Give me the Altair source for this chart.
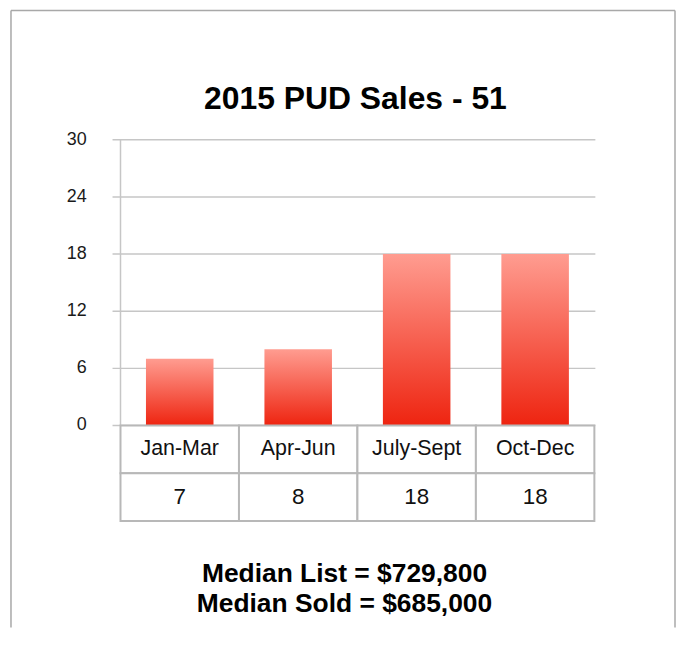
import altair as alt
import pandas as pd

# ---- data ----
categories = ["Jan-Mar", "Apr-Jun", "July-Sept", "Oct-Dec"]
sales = [7, 8, 18, 18]
y_ticks = [0, 6, 12, 18, 24, 30]
title_text = "2015 PUD Sales - 51"
median_lines = ["Median List = $729,800", "Median Sold = $685,000"]

W, H = 667, 620
FONT = "Liberation Sans"

bars_df = pd.DataFrame({"category": categories, "sales": sales})
ticks_df = pd.DataFrame({"tick": y_ticks})
table_df = pd.DataFrame({
    "category": categories * 2,
    "row": ["label"] * len(categories) + ["value"] * len(categories),
    "text": categories + [str(v) for v in sales],
})
one = pd.DataFrame({"k": [0]})

xscale = alt.Scale(domain=categories, range=[110, 586], paddingInner=0, paddingOuter=0)
yscale = alt.Scale(domain=[0, 30], range=[417, 130], nice=False, zero=True)
rowscale = alt.Scale(domain=["label", "value"], range=[417, 513], paddingInner=0, paddingOuter=0)

grid_color = "#C6C6C6"

grid = alt.Chart(ticks_df).mark_rule(color=grid_color, strokeWidth=1.5).encode(
    y=alt.Y("tick:Q", scale=yscale, axis=None),
    x=alt.value(102),
    x2=alt.value(587),
)

yline = alt.Chart(ticks_df).mark_rule(color=grid_color, strokeWidth=1.5).encode(
    x=alt.value(110),
    y=alt.Y("min(tick):Q", scale=yscale, axis=None),
    y2="max(tick):Q",
)

gradient = alt.Gradient(
    gradient="linear",
    stops=[alt.GradientStop(color="#FF9C90", offset=0),
           alt.GradientStop(color="#EE2410", offset=1)],
    x1=0, x2=0, y1=0, y2=1,
)

bars = alt.Chart(bars_df).mark_bar(width=alt.RelativeBandSize(0.57), color=gradient).encode(
    x=alt.X("category:N", scale=xscale, axis=None),
    y=alt.Y("sales:Q", scale=yscale, axis=None),
)

tick_labels = alt.Chart(ticks_df).mark_text(
    align="right", baseline="middle", fontSize=18, font=FONT, color="#1a1a1a"
).encode(
    y=alt.Y("tick:Q", scale=yscale, axis=None),
    x=alt.value(76),
    text="tick:Q",
)

cells = alt.Chart(table_df).mark_rect(fill="white", stroke="#B8B8B8", strokeWidth=2).encode(
    x=alt.X("category:N", scale=xscale, axis=None),
    y=alt.Y("row:N", scale=rowscale, axis=None),
)

label_text = alt.Chart(table_df).transform_filter(alt.datum.row == "label").mark_text(
    fontSize=21.5, font=FONT, color="#111111", baseline="middle"
).encode(
    x=alt.X("category:N", scale=xscale, axis=None),
    y=alt.Y("row:N", scale=rowscale, axis=None),
    text="text:N",
)

value_text = alt.Chart(table_df).transform_filter(alt.datum.row == "value").mark_text(
    fontSize=22.5, font=FONT, color="#111111", baseline="middle"
).encode(
    x=alt.X("category:N", scale=xscale, axis=None),
    y=alt.Y("row:N", scale=rowscale, axis=None),
    text="text:N",
)

title = alt.Chart(pd.DataFrame({"t": [title_text]})).mark_text(
    fontSize=32, fontWeight="bold", font=FONT, baseline="alphabetic", color="#000000"
).encode(x=alt.value(346), y=alt.value(99), text="t:N")

medians = alt.Chart(one).mark_text(
    text=median_lines, lineHeight=30, fontSize=26.5, fontWeight="bold", font=FONT,
    baseline="alphabetic", color="#000000"
).encode(x=alt.value(335), y=alt.value(574))

border_color = "#A8A8A8"
border_top = alt.Chart(one).mark_rule(color=border_color, strokeWidth=1.5).encode(
    x=alt.value(0), x2=alt.value(W), y=alt.value(0))
border_left = alt.Chart(one).mark_rule(color=border_color, strokeWidth=1.5).encode(
    x=alt.value(0), y=alt.value(0), y2=alt.value(H))
border_right = alt.Chart(one).mark_rule(color=border_color, strokeWidth=1.5).encode(
    x=alt.value(W), y=alt.value(0), y2=alt.value(H))

chart = alt.layer(
    grid, yline, bars, cells, label_text, value_text, tick_labels, title, medians,
    border_top, border_left, border_right,
).resolve_scale(y="independent").properties(
    width=W, height=H,
    autosize=alt.AutoSizeParams(type="none"),
    padding={"left": 3, "top": 1, "right": 1, "bottom": 0},
).configure_view(stroke=None)

chart.save("out.html", embed_options={"renderer": "svg", "actions": False})
